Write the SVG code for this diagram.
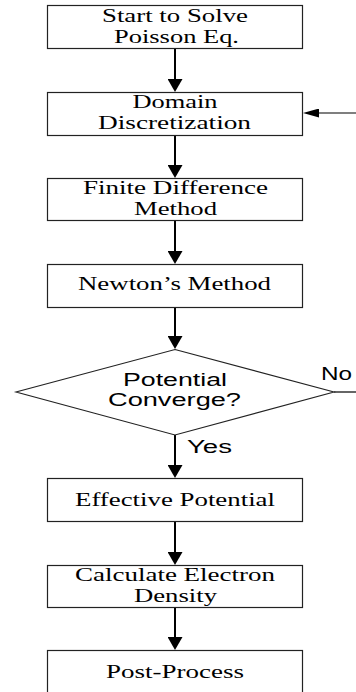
<svg xmlns="http://www.w3.org/2000/svg" width="356" height="692" viewBox="0 0 356 692">
<style>
.box{fill:#fff;stroke:#222;stroke-width:1.2}
.dia{fill:#fff;stroke:#222;stroke-width:1.1}
.t{font-family:"Liberation Serif","Times New Roman",serif;font-size:18.5px;fill:#000;text-anchor:middle}
.s{font-family:"Liberation Sans",Arial,sans-serif;font-size:17.5px;fill:#000;text-anchor:middle}
.c{stroke:#000;stroke-width:2;fill:none}
.c1{stroke:#000;stroke-width:1.2;fill:none}
</style>
<defs>
<marker id="ah" markerUnits="userSpaceOnUse" markerWidth="13" markerHeight="15" viewBox="0 0 13 15" refX="3" refY="7.5" orient="auto">
<path d="M0,0 L13,7.5 L0,15 z" fill="#000"/>
</marker>
<marker id="ahs" markerUnits="userSpaceOnUse" markerWidth="16" markerHeight="9" viewBox="0 0 16 9" refX="3" refY="4.5" orient="auto">
<path d="M0,0 L16,4.5 L0,9 z" fill="#000"/>
</marker>
</defs>
<rect width="356" height="692" fill="#fff"/>
<g id="connectors">
<line class="c" x1="175" y1="48" x2="175" y2="82" marker-end="url(#ah)"/>
<line class="c" x1="175" y1="135" x2="175" y2="168" marker-end="url(#ah)"/>
<line class="c" x1="175" y1="220" x2="175" y2="254" marker-end="url(#ah)"/>
<line class="c" x1="175" y1="307" x2="175" y2="339" marker-end="url(#ah)"/>
<line class="c" x1="175" y1="435" x2="175" y2="468" marker-end="url(#ah)"/>
<line class="c" x1="175" y1="521" x2="175" y2="555" marker-end="url(#ah)"/>
<line class="c" x1="175" y1="607" x2="175" y2="640" marker-end="url(#ah)"/>
<line class="c1" x1="356" y1="113" x2="316" y2="113" marker-end="url(#ahs)"/>
<line class="c1" x1="334" y1="392" x2="356" y2="392"/>
<text class="s" x="209.5" y="453" textLength="45" lengthAdjust="spacingAndGlyphs">Yes</text>
<text class="s" x="336.5" y="380" textLength="31" lengthAdjust="spacingAndGlyphs">No</text>
</g>
<g id="start">
<rect class="box" x="47.5" y="5.5" width="255" height="43"/>
<text class="t" x="175" y="22" textLength="146" lengthAdjust="spacingAndGlyphs">Start to Solve</text>
<text class="t" x="176.5" y="42.5" textLength="125" lengthAdjust="spacingAndGlyphs">Poisson Eq.</text>
</g>
<g id="domain">
<rect class="box" x="47.5" y="92.5" width="255" height="43"/>
<text class="t" x="175" y="108" textLength="85" lengthAdjust="spacingAndGlyphs">Domain</text>
<text class="t" x="174.5" y="128.5" textLength="153" lengthAdjust="spacingAndGlyphs">Discretization</text>
</g>
<g id="fdm">
<rect class="box" x="47.5" y="178.5" width="255" height="42"/>
<text class="t" x="175.5" y="194" textLength="185" lengthAdjust="spacingAndGlyphs">Finite Difference</text>
<text class="t" x="175.5" y="214.5" textLength="83" lengthAdjust="spacingAndGlyphs">Method</text>
</g>
<g id="newton">
<rect class="box" x="47.5" y="264.5" width="255" height="43"/>
<text class="t" x="174.5" y="290" textLength="193" lengthAdjust="spacingAndGlyphs">Newton’s Method</text>
</g>
<g id="converge">
<polygon class="dia" points="175,349.5 334,392 175,435 16,392"/>
<text class="s" x="175" y="386" textLength="104" lengthAdjust="spacingAndGlyphs">Potential</text>
<text class="s" x="174.5" y="406" textLength="133" lengthAdjust="spacingAndGlyphs">Converge?</text>
</g>
<g id="effective">
<rect class="box" x="47.5" y="478.5" width="255" height="43"/>
<text class="t" x="175" y="506" textLength="200" lengthAdjust="spacingAndGlyphs">Effective Potential</text>
</g>
<g id="density">
<rect class="box" x="47.5" y="565.5" width="255" height="42"/>
<text class="t" x="175" y="581" textLength="200" lengthAdjust="spacingAndGlyphs">Calculate Electron</text>
<text class="t" x="175.5" y="601.5" textLength="83" lengthAdjust="spacingAndGlyphs">Density</text>
</g>
<g id="post">
<rect class="box" x="47.5" y="650.5" width="255" height="43"/>
<text class="t" x="175" y="678" textLength="138" lengthAdjust="spacingAndGlyphs">Post-Process</text>
</g>
</svg>
